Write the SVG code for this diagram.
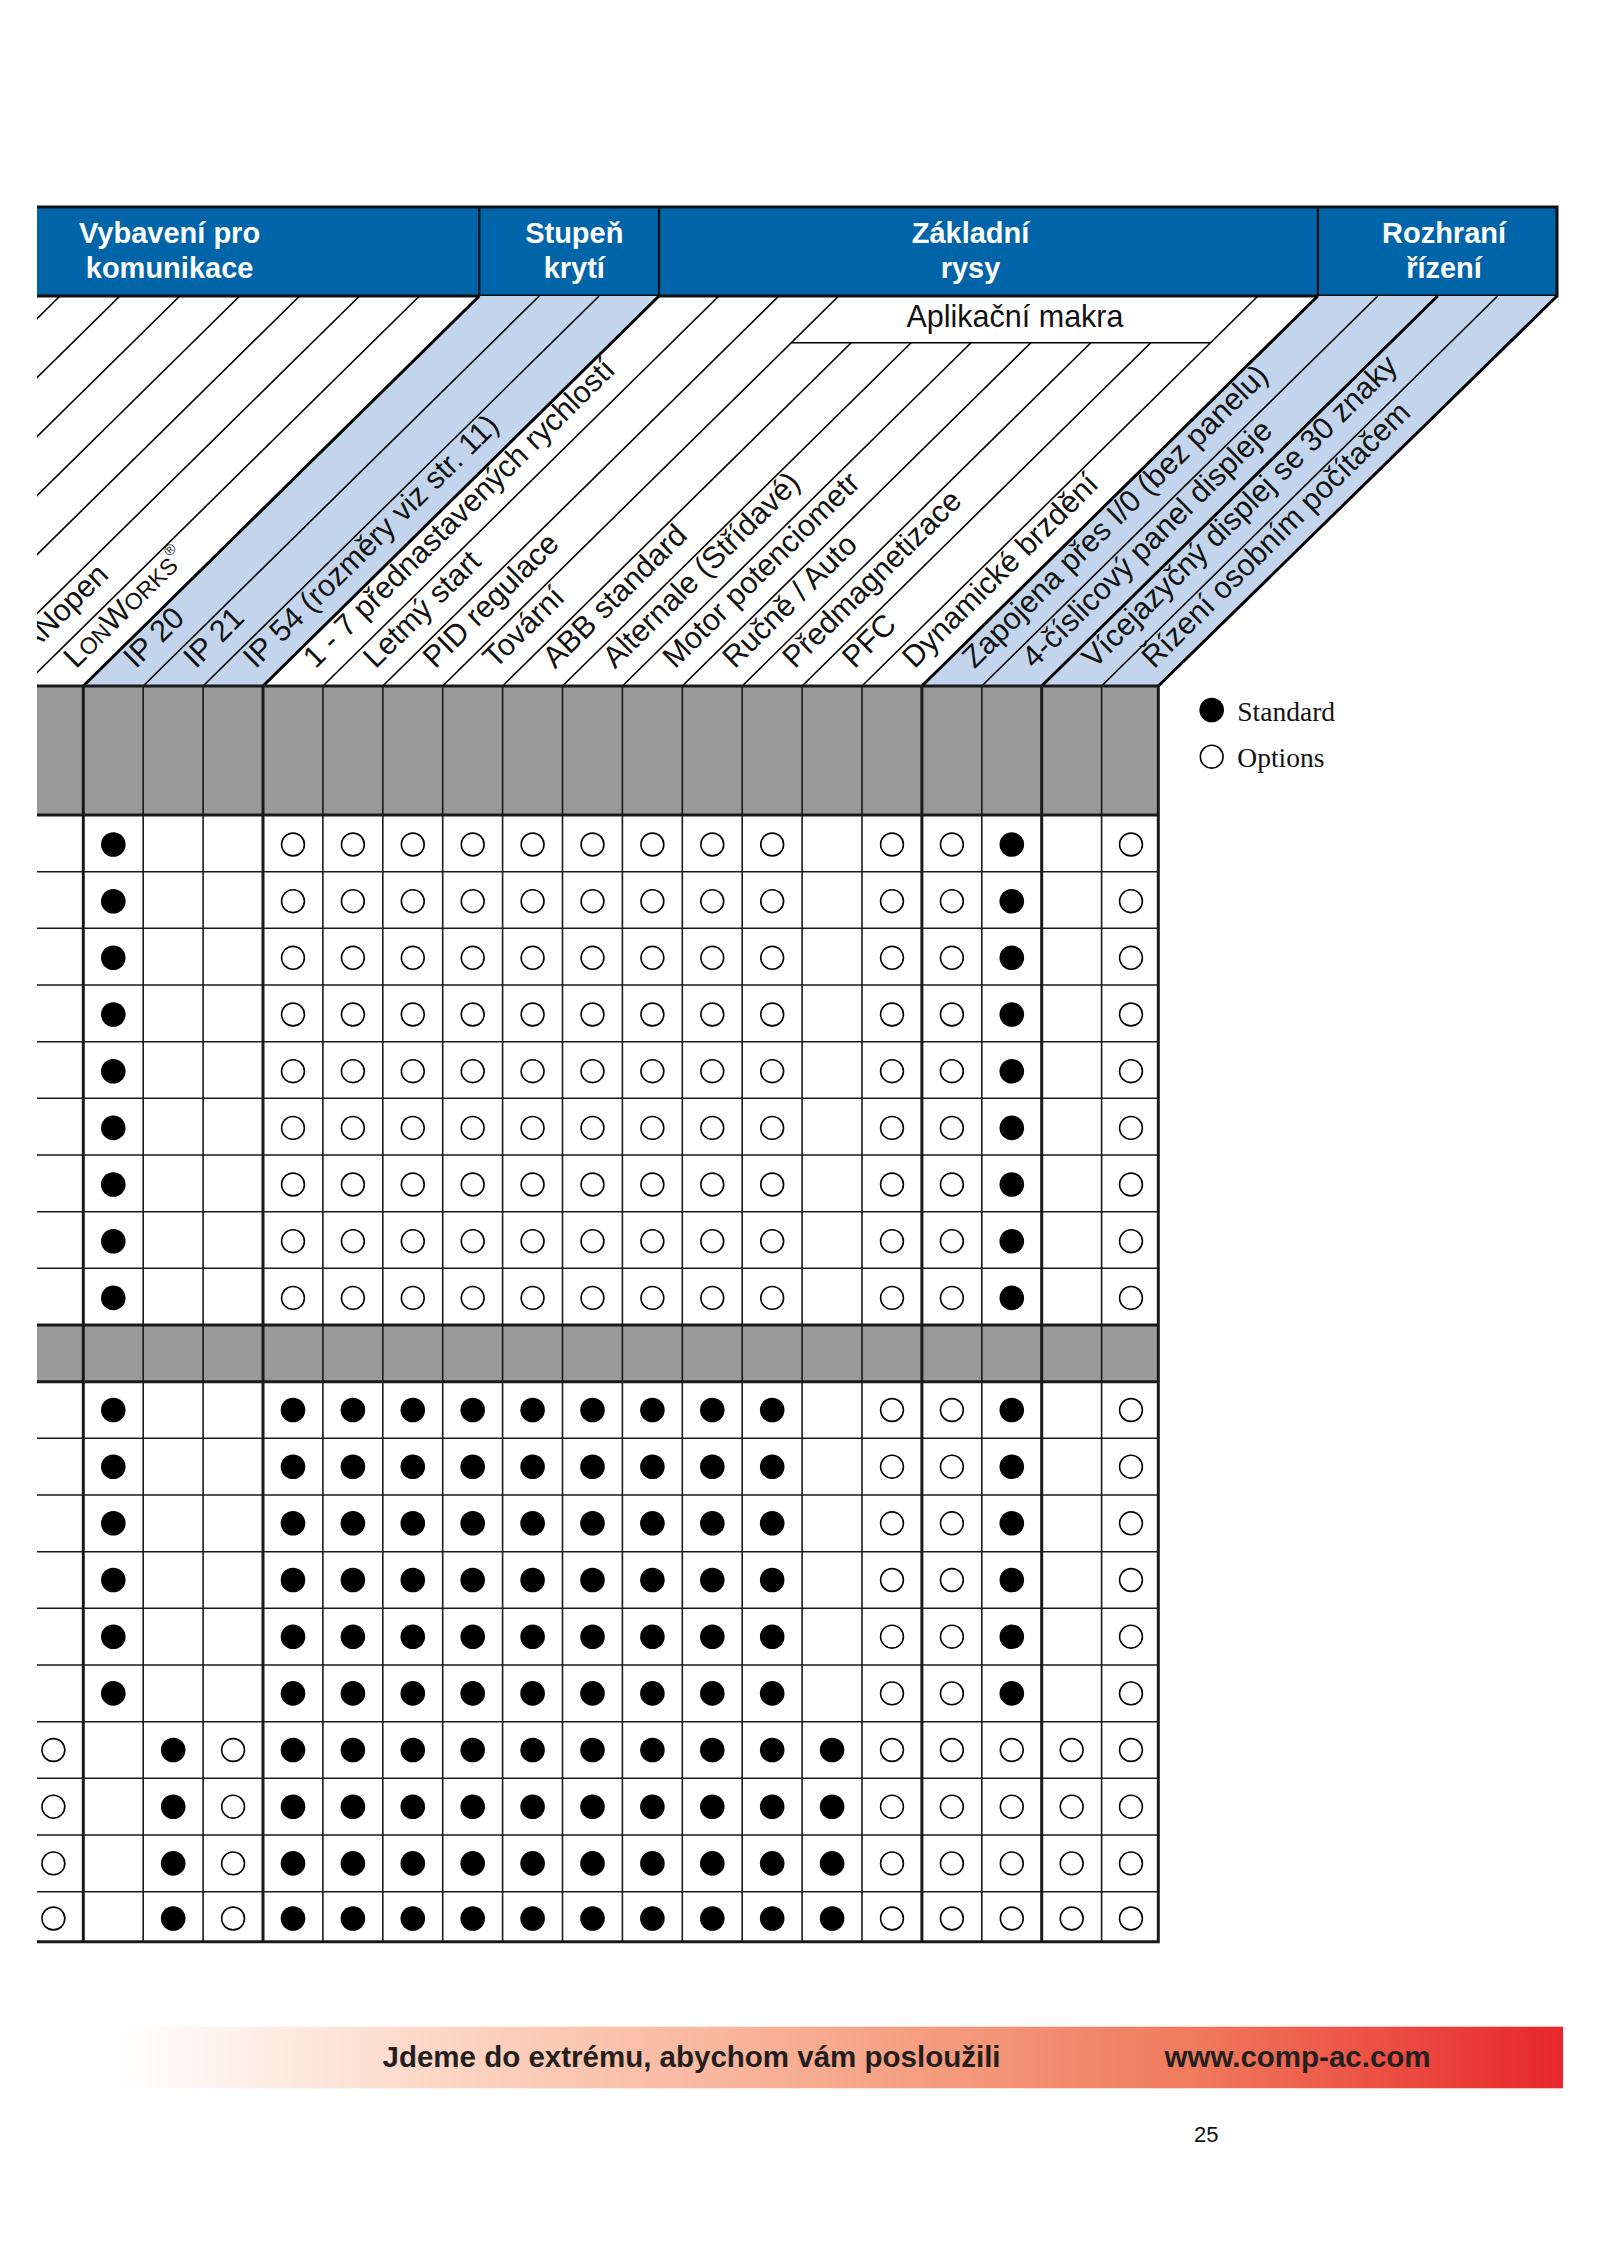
<svg xmlns="http://www.w3.org/2000/svg" width="1600" height="2264" viewBox="0 0 1600 2264">
<style>
.hd{font-family:"Liberation Sans",Arial,sans-serif;font-weight:bold;font-size:29px;fill:#fff;text-anchor:middle}
.lb{font-family:"Liberation Sans",Arial,sans-serif;font-size:30.5px;fill:#111}
.dg{stroke:#000;stroke-width:1.6;fill:none}
.dgt{stroke:#000;stroke-width:3;fill:none}
.gl{stroke:#1a1a1a;stroke-width:1.6;fill:none}
.glt{stroke:#1a1a1a;stroke-width:3;fill:none}
.lg{font-family:"Liberation Serif","Times New Roman",serif;font-size:27.5px;fill:#111}
.ft{font-family:"Liberation Sans",Arial,sans-serif;font-weight:bold;font-size:29.5px;fill:#231f20}
</style>
<defs>
<clipPath id="clipL"><rect x="37" y="290" width="1560" height="400"/></clipPath>
<linearGradient id="foot" gradientUnits="userSpaceOnUse" x1="89.5" y1="0" x2="1563" y2="0">
<stop offset="0" stop-color="#ffffff"/>
<stop offset="0.02" stop-color="#ffffff"/>
<stop offset="0.25" stop-color="#fcd4c2"/>
<stop offset="0.5" stop-color="#f7aa8d"/>
<stop offset="0.75" stop-color="#f07a5c"/>
<stop offset="1" stop-color="#e8262a"/>
</linearGradient>
<circle id="f" r="12.3" fill="#000"/>
<circle id="o" r="11.4" fill="none" stroke="#000" stroke-width="1.6"/>
<g id="rowA">
<use href="#f" x="113.3"/>
<use href="#o" x="293"/><use href="#o" x="352.9"/><use href="#o" x="412.8"/><use href="#o" x="472.7"/><use href="#o" x="532.6"/><use href="#o" x="592.5"/><use href="#o" x="652.4"/><use href="#o" x="712.3"/><use href="#o" x="772.2"/>
<use href="#o" x="892"/><use href="#o" x="951.9"/><use href="#f" x="1011.8"/><use href="#o" x="1131"/>
</g>
<g id="rowB">
<use href="#f" x="113.3"/>
<use href="#f" x="293"/><use href="#f" x="352.9"/><use href="#f" x="412.8"/><use href="#f" x="472.7"/><use href="#f" x="532.6"/><use href="#f" x="592.5"/><use href="#f" x="652.4"/><use href="#f" x="712.3"/><use href="#f" x="772.2"/>
<use href="#o" x="892"/><use href="#o" x="951.9"/><use href="#f" x="1011.8"/><use href="#o" x="1131"/>
</g>
<g id="rowC">
<use href="#o" x="53.4"/><use href="#f" x="173.2"/><use href="#o" x="233.1"/>
<use href="#f" x="293"/><use href="#f" x="352.9"/><use href="#f" x="412.8"/><use href="#f" x="472.7"/><use href="#f" x="532.6"/><use href="#f" x="592.5"/><use href="#f" x="652.4"/><use href="#f" x="712.3"/><use href="#f" x="772.2"/><use href="#f" x="832.1"/>
<use href="#o" x="892"/><use href="#o" x="951.9"/><use href="#o" x="1011.8"/><use href="#o" x="1071.7"/><use href="#o" x="1131"/>
</g>
</defs>
<rect x="0" y="0" width="1600" height="2264" fill="#fff"/>

<g id="header">
<rect x="37" y="207" width="1520" height="89" fill="#0064a8"/>
<path d="M37 207H1557V296H37" fill="none" stroke="#111" stroke-width="3"/>
<path d="M479.3 207V296M659 207V296M1317.9 207V296" stroke="#111" stroke-width="2.2"/>
<text class="hd" x="169.6" y="243">Vybavení pro</text>
<text class="hd" x="169.6" y="277.5">komunikace</text>
<text class="hd" x="574.3" y="243">Stupeň</text>
<text class="hd" x="574.3" y="277.5">krytí</text>
<text class="hd" x="970.5" y="243">Základní</text>
<text class="hd" x="970.5" y="277.5">rysy</text>
<text class="hd" x="1444" y="243">Rozhraní</text>
<text class="hd" x="1444" y="277.5">řízení</text>
</g>

<g id="diagonals">
<polygon points="83.3,686 263,686 659,296 479.3,296" fill="#c3d5ec"/>
<polygon points="921.9,686 1158.3,686 1557,296 1317.9,296" fill="#c3d5ec"/>
<g clip-path="url(#clipL)">
<path class="dg" d="M23.4 686L419.4 296M-36.5 686L359.5 296M-96.4 686L299.6 296M-156.3 686L239.7 296M-216.2 686L179.8 296M-276.1 686L119.9 296M-336 686L60 296"/>
<text class="lb" transform="translate(31.6,654) rotate(-44.7)">ANopen</text>
</g>
<path class="dgt" d="M83.3 686L479.3 296M263 686L659 296"/>
<path class="dg" d="M143.2 686L539.2 296M203.1 686L599.1 296M322.9 686L718.9 296M382.8 686L778.8 296M442.7 686L838.7 296"/>
<path class="dg" d="M502.6 686L851.2 342.7M562.5 686L911.1 342.7M622.4 686L971 342.7M682.3 686L1030.9 342.7M742.2 686L1090.8 342.7M802.1 686L1150.7 342.7"/>
<path class="dg" d="M862 686L1258 296M791.3 342.7H1210.6"/>
<path class="dgt" d="M921.9 686L1317.9 296M1041.7 686L1437.7 296M1158.3 686L1557 296"/>
<path class="dg" d="M981.8 686L1377.8 296M1101.6 686L1497.6 296" stroke-width="2"/>
<text class="lb" x="906.5" y="327" font-size="29">Aplikační makra</text>
</g>

<g id="labels">
<text class="lb" transform="translate(75.9,669.5) rotate(-44.7)">L<tspan font-size="23">ON</tspan>W<tspan font-size="23">ORKS</tspan><tspan font-size="15" dy="-14">®</tspan></text>
<text class="lb" transform="translate(135.8,669.5) rotate(-44.7)">IP 20</text>
<text class="lb" transform="translate(195.7,669.5) rotate(-44.7)">IP 21</text>
<text class="lb" transform="translate(255.6,669.5) rotate(-44.7)">IP 54 (rozměry viz str. 11)</text>
<text class="lb" transform="translate(315.5,669.5) rotate(-44.7)">1 - 7 přednastavených rychlostí</text>
<text class="lb" transform="translate(375.4,669.5) rotate(-44.7)">Letmý start</text>
<text class="lb" transform="translate(435.3,669.5) rotate(-44.7)">PID regulace</text>
<text class="lb" transform="translate(495.2,669.5) rotate(-44.7)">Tovární</text>
<text class="lb" transform="translate(555.1,669.5) rotate(-44.7)">ABB standard</text>
<text class="lb" transform="translate(615,669.5) rotate(-44.7)">Alternale (Střídavé)</text>
<text class="lb" transform="translate(674.9,669.5) rotate(-44.7)">Motor potenciometr</text>
<text class="lb" transform="translate(734.8,669.5) rotate(-44.7)">Ručně / Auto</text>
<text class="lb" transform="translate(794.7,669.5) rotate(-44.7)">Předmagnetizace</text>
<text class="lb" transform="translate(854.6,669.5) rotate(-44.7)">PFC</text>
<text class="lb" transform="translate(914.5,669.5) rotate(-44.7)">Dynamické brzdění</text>
<text class="lb" transform="translate(974.4,669.5) rotate(-44.7)">Zapojena přes I/0 (bez panelu)</text>
<text class="lb" transform="translate(1034.3,669.5) rotate(-44.7)">4-číslicový panel displeje</text>
<text class="lb" transform="translate(1094.2,669.5) rotate(-44.7)">Vícejazyčný displej se 30 znaky</text>
<text class="lb" transform="translate(1154.1,669.5) rotate(-44.7)">Řízení osobním počítačem</text>
</g>

<g id="grid">
<rect x="37" y="686" width="1121.3" height="129" fill="#9a9a9a"/>
<rect x="37" y="1325" width="1121.3" height="56.7" fill="#9a9a9a"/>
<path class="gl" d="M37 871.7H1158.3M37 928.3H1158.3M37 985H1158.3M37 1041.7H1158.3M37 1098.3H1158.3M37 1155H1158.3M37 1211.7H1158.3M37 1268.3H1158.3M37 1438.3H1158.3M37 1495H1158.3M37 1551.7H1158.3M37 1608.3H1158.3M37 1665H1158.3M37 1721.7H1158.3M37 1778.3H1158.3M37 1835H1158.3M37 1891.7H1158.3"/>
<path class="gl" d="M143.2 686V1941.7M203.1 686V1941.7M322.9 686V1941.7M382.8 686V1941.7M442.7 686V1941.7M502.6 686V1941.7M562.5 686V1941.7M622.4 686V1941.7M682.3 686V1941.7M742.2 686V1941.7M802.1 686V1941.7M862 686V1941.7M981.8 686V1941.7M1101.6 686V1941.7"/>
<path class="glt" d="M83.3 686V1941.7M263 686V1941.7M921.9 686V1941.7M1041.7 686V1941.7" stroke-width="2.6"/>
<path class="glt" d="M37 686H1158.3V1941.7H37M37 815H1158.3M37 1325H1158.3M37 1381.7H1158.3"/>
<use href="#rowA" y="844.5"/>
<use href="#rowA" y="901.2"/>
<use href="#rowA" y="957.8"/>
<use href="#rowA" y="1014.5"/>
<use href="#rowA" y="1071.2"/>
<use href="#rowA" y="1127.9"/>
<use href="#rowA" y="1184.5"/>
<use href="#rowA" y="1241.2"/>
<use href="#rowA" y="1297.9"/>
<use href="#rowB" y="1410"/>
<use href="#rowB" y="1466.7"/>
<use href="#rowB" y="1523.3"/>
<use href="#rowB" y="1580"/>
<use href="#rowB" y="1636.7"/>
<use href="#rowB" y="1693.4"/>
<use href="#rowC" y="1750"/>
<use href="#rowC" y="1806.7"/>
<use href="#rowC" y="1863.4"/>
<use href="#rowC" y="1918.5"/>
</g>

<g id="legend">
<circle cx="1211.7" cy="710" r="12.3" fill="#000"/>
<text class="lg" x="1237.3" y="720.5">Standard</text>
<circle cx="1211.7" cy="756.7" r="11.4" fill="none" stroke="#000" stroke-width="1.6"/>
<text class="lg" x="1237.3" y="766.5">Options</text>
</g>

<g id="footer">
<rect x="89.5" y="2026.7" width="1473.5" height="61.6" fill="url(#foot)"/>
<text class="ft" x="382.5" y="2067">Jdeme do extrému, abychom vám posloužili</text>
<text class="ft" x="1164.5" y="2067">www.comp-ac.com</text>
<text x="1194" y="2142" font-family="Liberation Sans, Arial, sans-serif" font-size="22" fill="#111">25</text>
</g>
</svg>
